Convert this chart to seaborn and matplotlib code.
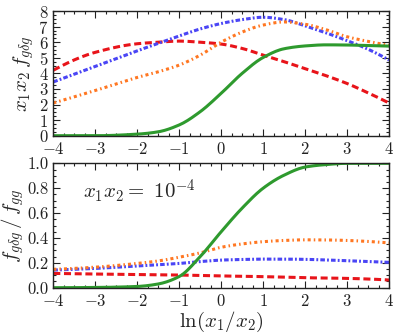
import numpy as np
import pandas as pd
import matplotlib
matplotlib.use("Agg")
import matplotlib.pyplot as plt
from matplotlib.ticker import AutoMinorLocator, MultipleLocator, FormatStrFormatter
import seaborn as sns

# x positions (ln(x1/x2))
x_pts = [-4, -3, -2, -1.5, -1, -0.5, 0, 0.5, 1, 1.5, 2, 2.5, 3, 3.5, 4]
# top panel: x1 x2 f_{g delta g}
red_top = [4.2, 5.35, 5.9, 6.0, 6.07, 6.0, 5.88, 5.6, 5.17, 4.75, 4.3, 3.85, 3.35, 2.75, 2.1]
blue_top = [3.45, 4.45, 5.45, 5.92, 6.4, 6.85, 7.2, 7.45, 7.6, 7.45, 7.05, 6.6, 6.1, 5.55, 4.85]
orange_top = [2.1, 2.9, 3.74, 4.1, 4.53, 5.17, 6.0, 6.65, 7.1, 7.3, 7.15, 6.8, 6.35, 6.05, 5.8]
green_top = [0.0, 0.0, 0.1, 0.25, 0.69, 1.54, 2.72, 4.0, 5.02, 5.58, 5.76, 5.83, 5.82, 5.78, 5.75]

# bottom panel: f_{g delta g} / f_{gg}
red_bot = [0.115, 0.11, 0.107, 0.105, 0.102, 0.098, 0.094, 0.092, 0.089, 0.085, 0.08, 0.078, 0.075, 0.07, 0.062]
blue_bot = [0.142, 0.155, 0.175, 0.185, 0.195, 0.21, 0.222, 0.227, 0.23, 0.23, 0.228, 0.223, 0.217, 0.21, 0.204]
orange_bot = [0.148, 0.165, 0.195, 0.215, 0.245, 0.28, 0.325, 0.352, 0.37, 0.38, 0.385, 0.384, 0.38, 0.372, 0.36]
green_bot = [0.0, 0.002, 0.01, 0.03, 0.09, 0.25, 0.45, 0.64, 0.8, 0.905, 0.97, 0.99, 1.0, 1.0, 1.0]

series = ["red", "blue", "orange", "green"]
colors = {"red": "#e8141a", "blue": "#4a45f5", "orange": "#ff7722", "green": "#2e9a2e"}
dashes = {"red": (2.3, 1.2), "blue": (1.5, 0.7, 0.6, 0.7), "orange": (1.0, 1.0, 0.5, 1.0), "green": ""}

sns.set_style("ticks")
plt.rcParams["font.family"] = ["serif"]
plt.rcParams["font.serif"] = ["cmr10", "DejaVu Serif"]
plt.rcParams["mathtext.fontset"] = "cm"
plt.rcParams["axes.formatter.use_mathtext"] = True
plt.rcParams["axes.unicode_minus"] = True


def smooth(x, y):
    xs = np.linspace(min(x), max(x), 161)
    idx = sorted(set(list(x) + list(xs)))
    s = pd.Series(y, index=x).reindex(idx).interpolate(method="pchip")
    return xs, s.loc[xs].values


def make_df(arrs):
    rows = []
    for name, y in zip(series, arrs):
        xs, ys = smooth(x_pts, y)
        rows.append(pd.DataFrame({"x": xs, "y": ys, "s": name}))
    return pd.concat(rows, ignore_index=True)


df_top = make_df([red_top, blue_top, orange_top, green_top])
df_bot = make_df([red_bot, blue_bot, orange_bot, green_bot])

fig = plt.figure(figsize=(3.99, 3.34), dpi=100)
ax1 = fig.add_axes([0.1336, 0.5937, 0.975 - 0.1336, 0.967 - 0.5937])
ax2 = fig.add_axes([0.1336, 0.1386, 0.975 - 0.1336, 0.511 - 0.1386])

for ax, df in [(ax1, df_top), (ax2, df_bot)]:
    sns.lineplot(data=df, x="x", y="y", hue="s", style="s", palette=colors,
                 dashes=dashes, hue_order=series, style_order=series,
                 linewidth=2.2, legend=False, ax=ax)
    ax.set_xlim(-4, 4)
    ax.xaxis.set_major_locator(MultipleLocator(1))
    ax.xaxis.set_minor_locator(AutoMinorLocator(4))
    ax.yaxis.set_minor_locator(AutoMinorLocator(4))
    ax.tick_params(which="both", direction="in", top=True, right=True, labelsize=12, colors="#222222")
    ax.tick_params(which="major", length=5, width=0.8)
    ax.tick_params(which="minor", length=2.5, width=0.8)
    for sp in ax.spines.values():
        sp.set_linewidth(1.0)
        sp.set_color("#222222")
    ax.set_xlabel("")

ax1.set_ylim(0, 8)
ax1.yaxis.set_major_locator(MultipleLocator(1))
ax1.set_ylabel(r"$x_1x_2\,f_{g\delta g}$", fontsize=15, labelpad=2)

ax2.set_ylim(0, 1)
ax2.yaxis.set_major_locator(MultipleLocator(0.2))
ax2.yaxis.set_major_formatter(FormatStrFormatter("%.1f"))
ax2.set_ylabel(r"$f_{g\delta g}\,/\,f_{gg}$", fontsize=15, labelpad=1)
ax2.set_xlabel(r"$\ln(x_1/x_2)$", fontsize=15, labelpad=1)
ax2.text(-3.3, 0.78, r"$x_1x_2 =\ 10^{-4}$", fontsize=15, va="center", ha="left")

fig.savefig("out.png", dpi=100)
